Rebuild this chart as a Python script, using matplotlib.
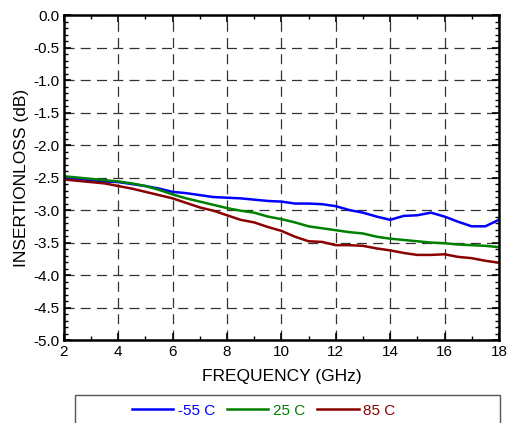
import numpy as np
import matplotlib
matplotlib.use('Agg')
import matplotlib.pyplot as plt
from matplotlib.patches import Rectangle
from matplotlib.ticker import MultipleLocator

plt.rcParams['font.family'] = ['Liberation Sans', 'DejaVu Sans']

# frequency points (GHz), every 0.5 GHz
freq = [2.0, 2.5, 3.0, 3.5, 4.0, 4.5, 5.0, 5.5, 6.0, 6.5, 7.0, 7.5, 8.0, 8.5, 9.0,
        9.5, 10.0, 10.5, 11.0, 11.5, 12.0, 12.5, 13.0, 13.5, 14.0, 14.5, 15.0,
        15.5, 16.0, 16.5, 17.0, 17.5, 18.0]

# insertion loss (dB)
il_m55 = [-2.50, -2.52, -2.54, -2.56, -2.57, -2.60, -2.63, -2.67, -2.72, -2.74, -2.77,
          -2.80, -2.81, -2.82, -2.84, -2.86, -2.87, -2.90, -2.90, -2.91, -2.94, -3.00,
          -3.04, -3.10, -3.15, -3.09, -3.08, -3.04, -3.10, -3.18, -3.25, -3.25, -3.15]
il_25 = [-2.48, -2.50, -2.52, -2.54, -2.56, -2.59, -2.63, -2.69, -2.76, -2.82, -2.87,
         -2.92, -2.97, -3.01, -3.04, -3.10, -3.14, -3.19, -3.25, -3.28, -3.31, -3.34,
         -3.36, -3.41, -3.44, -3.46, -3.48, -3.50, -3.51, -3.53, -3.54, -3.55, -3.57]
il_85 = [-2.53, -2.55, -2.57, -2.59, -2.63, -2.67, -2.72, -2.77, -2.82, -2.89, -2.96,
         -3.01, -3.08, -3.15, -3.19, -3.26, -3.32, -3.41, -3.48, -3.49, -3.54, -3.54,
         -3.55, -3.59, -3.62, -3.66, -3.69, -3.69, -3.68, -3.72, -3.74, -3.78, -3.81]

labels = ['-55 C', '25 C', '85 C']
colors = ['#0000ff', '#008000', '#8b0000']

fig = plt.figure(figsize=(5.07, 4.23), dpi=100)
ax = fig.add_axes([0.126, 0.196, 0.858, 0.7685])

lines = []
for y, lab, c in zip([il_m55, il_25, il_85], labels, colors):
    ln, = ax.plot(freq, y, color=c, lw=1.8, label=lab)
    lines.append(ln)

ax.set_xlim(2, 18)
ax.set_ylim(-5, 0)
ax.xaxis.set_major_locator(MultipleLocator(2))
ax.xaxis.set_minor_locator(MultipleLocator(1))
ax.yaxis.set_major_locator(MultipleLocator(0.5))
ax.yaxis.set_minor_locator(MultipleLocator(0.1))
ax.yaxis.set_major_formatter(matplotlib.ticker.FormatStrFormatter('%.1f'))
ax.tick_params(which='both', direction='in', top=True, right=True, labelsize=11)
ax.tick_params(which='major', length=5, width=1.2)
ax.tick_params(which='minor', length=3, width=1)
ax.grid(True, which='major', color='#333333', ls=(0, (8, 5)), lw=0.9)
for s in ax.spines.values():
    s.set_linewidth(1.8)

ax.set_xlabel('FREQUENCY (GHz)', fontsize=12.5, labelpad=7)
ax.set_ylabel('INSERTIONLOSS (dB)', fontsize=12.5, labelpad=3)

# legend box, runs off the bottom of the figure
fig.patches.append(Rectangle((0.148, -0.05), 0.838, 0.116, transform=fig.transFigure,
                             fill=False, edgecolor='#555555', lw=1))
fig.legend(handles=lines, loc='center', bbox_to_anchor=(0.52, 0.029), ncol=3,
           frameon=False, fontsize=11, labelcolor='linecolor', handlelength=2.7,
           handletextpad=0.3, columnspacing=0.8)

fig.savefig('out.png', dpi=100)
